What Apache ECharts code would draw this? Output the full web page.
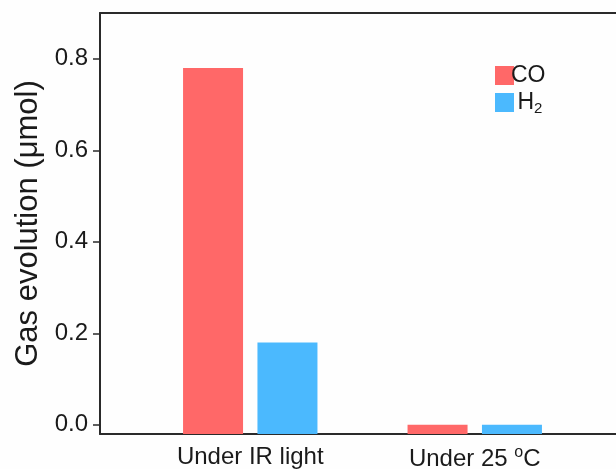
<!DOCTYPE html>
<html>
<head>
<meta charset="utf-8">
<script src="https://cdn.jsdelivr.net/npm/echarts@6/dist/echarts.min.js"></script>
<style>
  html, body { margin: 0; padding: 0; background: #fefefe; }
  #chart { width: 616px; height: 469px; }
</style>
</head>
<body>
<div id="chart"></div>
<script>
// Gas evolved under two conditions
const categories = ['Under IR light', 'Under 25 {sup|o}C'];
const coValues = [0.78, 0.0];
const h2Values = [0.18, 0.0];
const yTicks = [0.0, 0.2, 0.4, 0.6, 0.8];
const yMin = -0.02;
const yMax = 0.9;

const font = 'Liberation Sans, Arial, sans-serif';
const textColor = '#1a1a1a';
const frameColor = '#2a2a2a';
const frameLine = { show: true, onZero: false, lineStyle: { color: frameColor, width: 2 } };

const chart = echarts.init(document.getElementById('chart'));

chart.setOption({
  backgroundColor: '#fefefe',
  animation: false,
  textStyle: { fontFamily: font, color: textColor },
  legend: {
    orient: 'vertical',
    left: 490,
    top: 59,
    itemWidth: 19,
    itemHeight: 19,
    itemGap: 4,
    icon: 'rect',
    textStyle: {
      fontSize: 23,
      color: textColor,
      padding: [0, 0, 0, -8],
      rich: {
        sub: { fontSize: 15, verticalAlign: 'bottom', padding: [12, 0, 0, 0], color: textColor }
      }
    },
    formatter: function (name) {
      return name === 'H2' ? ' H{sub|2}' : name;
    },
    data: ['CO', 'H2']
  },
  grid: [
    // frame: left, bottom and top lines, open on the right
    { left: 100, top: 13, right: 0, bottom: 35, outerBoundsMode: 'none' },
    // bar area
    { left: 138, top: 13, width: 449, bottom: 35, outerBoundsMode: 'none' }
  ],
  xAxis: [
    {
      gridIndex: 0, type: 'value', min: 0, max: 1, position: 'bottom',
      axisLine: frameLine, axisTick: { show: false }, axisLabel: { show: false }, splitLine: { show: false }
    },
    {
      gridIndex: 0, type: 'value', min: 0, max: 1, position: 'top',
      axisLine: frameLine, axisTick: { show: false }, axisLabel: { show: false }, splitLine: { show: false }
    },
    {
      gridIndex: 1,
      type: 'category',
      data: categories,
      axisLine: { show: false },
      axisTick: { show: false },
      axisLabel: {
        interval: 0,
        fontSize: 24,
        color: textColor,
        margin: 11,
        hideOverlap: false,
        rich: {
          sup: { fontSize: 16, verticalAlign: 'top', padding: [0, 0, 12, 0], color: textColor }
        }
      }
    }
  ],
  yAxis: [
    {
      gridIndex: 0, type: 'value', min: yMin, max: yMax,
      axisLine: frameLine, axisTick: { show: false }, axisLabel: { show: false }, splitLine: { show: false }
    },
    {
      gridIndex: 1,
      type: 'value',
      min: yMin,
      max: yMax,
      startValue: yMin,
      offset: 38,
      splitLine: { show: false },
      axisLine: { show: false },
      axisTick: {
        show: true,
        length: 7,
        inside: false,
        customValues: yTicks,
        lineStyle: { color: frameColor, width: 1.5 }
      },
      axisLabel: {
        fontSize: 24,
        color: textColor,
        margin: 12,
        customValues: yTicks,
        formatter: function (v) { return v.toFixed(1); }
      },
      name: 'Gas evolution (\u03bcmol)',
      nameLocation: 'middle',
      nameGap: 55,
      nameTextStyle: { fontSize: 31, color: textColor, fontFamily: font }
    }
  ],
  series: [
    {
      name: 'CO',
      type: 'bar',
      xAxisIndex: 2,
      yAxisIndex: 1,
      data: coValues,
      barWidth: 60,
      barGap: '24%',
      itemStyle: { color: '#ff6868' }
    },
    {
      name: 'H2',
      type: 'bar',
      xAxisIndex: 2,
      yAxisIndex: 1,
      data: h2Values,
      barWidth: 60,
      barGap: '24%',
      itemStyle: { color: '#4bb9fe' }
    }
  ]
});
</script>
</body>
</html>
